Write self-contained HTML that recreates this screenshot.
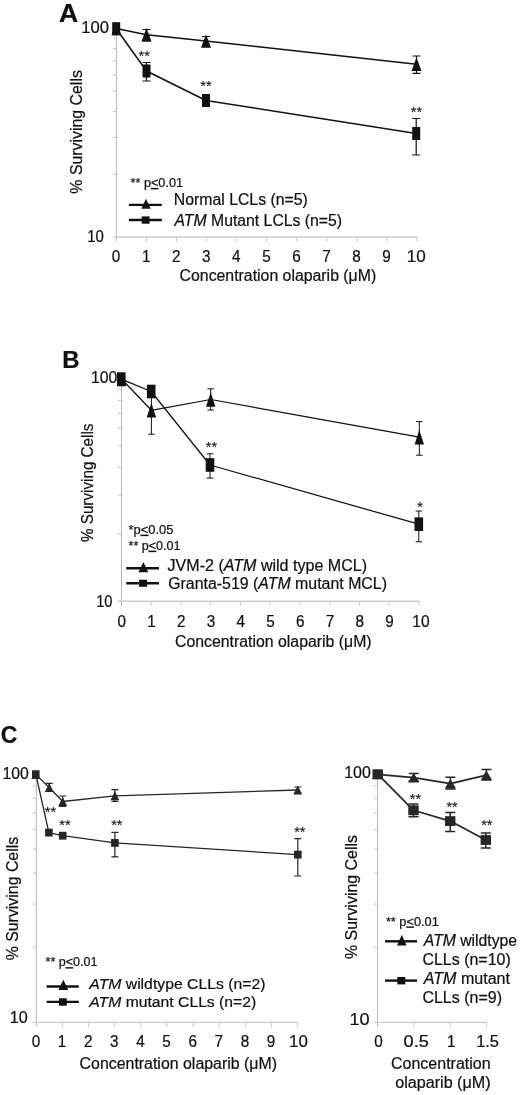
<!DOCTYPE html>
<html lang="en">
<head>
<meta charset="utf-8">
<title>Figure</title>
<style>
html,body{margin:0;padding:0;background:#fff;}
body{width:520px;height:1095px;overflow:hidden;}
svg{display:block;font-family:"Liberation Sans", Arial, Helvetica, sans-serif;}
text{stroke:#111;stroke-width:0.22px;}
</style>
</head>
<body>
<svg width="520" height="1095" viewBox="0 0 520 1095">
<rect width="520" height="1095" fill="#fff"/>
<text x="59.0" y="22.1" font-size="25" text-anchor="start" font-weight="bold" fill="#111" textLength="19.2" lengthAdjust="spacingAndGlyphs">A</text>
<path d="M116.4 27.5V241.5" stroke="#b8b8b8" stroke-width="1" fill="none"/>
<path d="M112.9 237H417.5" stroke="#cccccc" stroke-width="1.4" fill="none"/>
<path d="M112.9 174.2H116.4M112.9 137.5H116.4M112.9 111.5H116.4M112.9 91.3H116.4M112.9 74.8H116.4M112.9 60.8H116.4M112.9 48.7H116.4M112.9 38.0H116.4" stroke="#c4c4c4" stroke-width="1" fill="none"/>
<path d="M146.5 237v4.5M176.5 237v4.5M206.6 237v4.5M236.6 237v4.5M266.7 237v4.5M296.8 237v4.5M326.8 237v4.5M356.9 237v4.5M386.9 237v4.5M417.0 237v4.5" stroke="#cccccc" stroke-width="1" fill="none"/>
<text x="116.1" y="261.9" font-size="16" text-anchor="middle" font-weight="normal" fill="#111" textLength="8.5" lengthAdjust="spacingAndGlyphs">0</text>
<text x="146.2" y="261.9" font-size="16" text-anchor="middle" font-weight="normal" fill="#111" textLength="8.5" lengthAdjust="spacingAndGlyphs">1</text>
<text x="176.2" y="261.9" font-size="16" text-anchor="middle" font-weight="normal" fill="#111" textLength="8.5" lengthAdjust="spacingAndGlyphs">2</text>
<text x="206.3" y="261.9" font-size="16" text-anchor="middle" font-weight="normal" fill="#111" textLength="8.5" lengthAdjust="spacingAndGlyphs">3</text>
<text x="236.3" y="261.9" font-size="16" text-anchor="middle" font-weight="normal" fill="#111" textLength="8.5" lengthAdjust="spacingAndGlyphs">4</text>
<text x="266.4" y="261.9" font-size="16" text-anchor="middle" font-weight="normal" fill="#111" textLength="8.5" lengthAdjust="spacingAndGlyphs">5</text>
<text x="296.5" y="261.9" font-size="16" text-anchor="middle" font-weight="normal" fill="#111" textLength="8.5" lengthAdjust="spacingAndGlyphs">6</text>
<text x="326.5" y="261.9" font-size="16" text-anchor="middle" font-weight="normal" fill="#111" textLength="8.5" lengthAdjust="spacingAndGlyphs">7</text>
<text x="356.6" y="261.9" font-size="16" text-anchor="middle" font-weight="normal" fill="#111" textLength="8.5" lengthAdjust="spacingAndGlyphs">8</text>
<text x="386.6" y="261.9" font-size="16" text-anchor="middle" font-weight="normal" fill="#111" textLength="8.5" lengthAdjust="spacingAndGlyphs">9</text>
<text x="416.3" y="261.9" font-size="16" text-anchor="middle" font-weight="normal" fill="#111" textLength="19.0" lengthAdjust="spacingAndGlyphs">10</text>
<text x="81.2" y="33.3" font-size="16" text-anchor="start" font-weight="normal" fill="#111" textLength="27.8" lengthAdjust="spacingAndGlyphs">100</text>
<text x="87.2" y="242.3" font-size="16" text-anchor="start" font-weight="normal" fill="#111" textLength="16.6" lengthAdjust="spacingAndGlyphs">10</text>
<text transform="translate(81.8 131.9) rotate(-90)" font-size="16.9" text-anchor="middle" fill="#111" textLength="123.5" lengthAdjust="spacingAndGlyphs">% Surviving Cells</text>
<text x="179.6" y="281.0" font-size="16" text-anchor="start" font-weight="normal" fill="#111" textLength="196.6" lengthAdjust="spacingAndGlyphs">Concentration olaparib (μM)</text>
<path d="M116.4 28.5L146.5 34.8L206.0 41.0L416.5 64.2" stroke="#111" stroke-width="1.5" fill="none" stroke-linejoin="round"/>
<path d="M146.5 29.5V41.0M142.5 29.5h8M142.5 41.0h8" stroke="#111" stroke-width="1.2" fill="none"/>
<path d="M206.0 36.5V46.0M202.0 36.5h8M202.0 46.0h8" stroke="#111" stroke-width="1.2" fill="none"/>
<path d="M416.5 56.0V73.3M412.5 56.0h8M412.5 73.3h8" stroke="#111" stroke-width="1.2" fill="none"/>
<path d="M116.4 21.7L121.4 35.3H111.4Z" fill="#111"/>
<path d="M146.5 28.0L151.5 41.6H141.5Z" fill="#111"/>
<path d="M206.0 34.2L211.0 47.8H201.0Z" fill="#111"/>
<path d="M416.5 57.4L421.5 71.0H411.5Z" fill="#111"/>
<path d="M116.2 28.7L146.5 71.0L206.0 100.5L416.2 133.5" stroke="#111" stroke-width="1.5" fill="none" stroke-linejoin="round"/>
<path d="M146.5 62.5V81.0M142.5 62.5h8M142.5 81.0h8" stroke="#111" stroke-width="1.2" fill="none"/>
<path d="M206.0 95.0V106.0M202.0 95.0h8M202.0 106.0h8" stroke="#111" stroke-width="1.2" fill="none"/>
<path d="M416.2 118.5V155.0M412.2 118.5h8M412.2 155.0h8" stroke="#111" stroke-width="1.2" fill="none"/>
<rect x="112.2" y="22.2" width="8" height="13" fill="#111"/>
<rect x="142.5" y="64.5" width="8" height="13" fill="#111"/>
<rect x="202.0" y="94.0" width="8" height="13" fill="#111"/>
<rect x="412.2" y="127.0" width="8" height="13" fill="#111"/>
<text x="144.2" y="61.1" font-size="14.5" text-anchor="middle" fill="#111" style="stroke-width:0.1px">**</text>
<text x="206.0" y="90.8" font-size="14.5" text-anchor="middle" fill="#111" style="stroke-width:0.1px">**</text>
<text x="416.5" y="116.8" font-size="14.5" text-anchor="middle" fill="#111" style="stroke-width:0.1px">**</text>
<text x="130.5" y="187.0" font-size="12.2" text-anchor="start" font-weight="normal" fill="#111" textLength="52.6" lengthAdjust="spacingAndGlyphs">** p<tspan text-decoration="underline">&lt;</tspan>0.01</text>
<path d="M128.9 204.9H161.8" stroke="#111" stroke-width="2.4"/>
<path d="M146.0 198.7L150.7 208.8H141.3Z" fill="#111"/>
<path d="M128.9 220H161.8" stroke="#111" stroke-width="2.4"/>
<rect x="141.7" y="216.4" width="7.9" height="7.3" fill="#111"/>
<text x="173.8" y="204.7" font-size="15.6" text-anchor="start" font-weight="normal" fill="#111" textLength="134.0" lengthAdjust="spacingAndGlyphs">Normal LCLs (n=5)</text>
<text x="174.5" y="225.8" font-size="15.6" text-anchor="start" font-weight="normal" fill="#111" textLength="167.6" lengthAdjust="spacingAndGlyphs"><tspan font-style="italic">ATM</tspan> Mutant LCLs (n=5)</text>
<text x="62.3" y="368.0" font-size="24" text-anchor="start" font-weight="bold" fill="#111">B</text>
<path d="M121.5 377.8V605.8" stroke="#b8b8b8" stroke-width="1" fill="none"/>
<path d="M118.0 601.3H419.5" stroke="#cccccc" stroke-width="1.4" fill="none"/>
<path d="M118.0 534.3H121.5M118.0 495.1H121.5M118.0 467.3H121.5M118.0 445.8H121.5M118.0 428.2H121.5M118.0 413.3H121.5M118.0 400.4H121.5M118.0 389.0H121.5" stroke="#c4c4c4" stroke-width="1" fill="none"/>
<path d="M151.2 601.3v4.5M181.0 601.3v4.5M210.8 601.3v4.5M240.5 601.3v4.5M270.2 601.3v4.5M300.0 601.3v4.5M329.8 601.3v4.5M359.5 601.3v4.5M389.2 601.3v4.5M419.0 601.3v4.5" stroke="#cccccc" stroke-width="1" fill="none"/>
<text x="121.7" y="627.4" font-size="16" text-anchor="middle" font-weight="normal" fill="#111" textLength="8.5" lengthAdjust="spacingAndGlyphs">0</text>
<text x="151.4" y="627.4" font-size="16" text-anchor="middle" font-weight="normal" fill="#111" textLength="8.5" lengthAdjust="spacingAndGlyphs">1</text>
<text x="181.2" y="627.4" font-size="16" text-anchor="middle" font-weight="normal" fill="#111" textLength="8.5" lengthAdjust="spacingAndGlyphs">2</text>
<text x="210.9" y="627.4" font-size="16" text-anchor="middle" font-weight="normal" fill="#111" textLength="8.5" lengthAdjust="spacingAndGlyphs">3</text>
<text x="240.7" y="627.4" font-size="16" text-anchor="middle" font-weight="normal" fill="#111" textLength="8.5" lengthAdjust="spacingAndGlyphs">4</text>
<text x="270.4" y="627.4" font-size="16" text-anchor="middle" font-weight="normal" fill="#111" textLength="8.5" lengthAdjust="spacingAndGlyphs">5</text>
<text x="300.2" y="627.4" font-size="16" text-anchor="middle" font-weight="normal" fill="#111" textLength="8.5" lengthAdjust="spacingAndGlyphs">6</text>
<text x="329.9" y="627.4" font-size="16" text-anchor="middle" font-weight="normal" fill="#111" textLength="8.5" lengthAdjust="spacingAndGlyphs">7</text>
<text x="359.7" y="627.4" font-size="16" text-anchor="middle" font-weight="normal" fill="#111" textLength="8.5" lengthAdjust="spacingAndGlyphs">8</text>
<text x="389.4" y="627.4" font-size="16" text-anchor="middle" font-weight="normal" fill="#111" textLength="8.5" lengthAdjust="spacingAndGlyphs">9</text>
<text x="420.9" y="627.4" font-size="16" text-anchor="middle" font-weight="normal" fill="#111" textLength="17.3" lengthAdjust="spacingAndGlyphs">10</text>
<text x="91.0" y="383.2" font-size="16" text-anchor="start" font-weight="normal" fill="#111" textLength="26.3" lengthAdjust="spacingAndGlyphs">100</text>
<text x="96.2" y="606.8" font-size="16" text-anchor="start" font-weight="normal" fill="#111" textLength="16.3" lengthAdjust="spacingAndGlyphs">10</text>
<text transform="translate(93.4 482.8) rotate(-90)" font-size="17.2" text-anchor="middle" fill="#111" textLength="118.5" lengthAdjust="spacingAndGlyphs">% Surviving Cells</text>
<text x="175.0" y="647.0" font-size="16" text-anchor="start" font-weight="normal" fill="#111" textLength="196.6" lengthAdjust="spacingAndGlyphs">Concentration olaparib (μM)</text>
<path d="M121.5 379.0L151.4 410.3L210.7 399.5L419.3 437.2" stroke="#111" stroke-width="1.25" fill="none" stroke-linejoin="round"/>
<path d="M151.4 394.0V434.2M148.2 394.0h6.5M148.2 434.2h6.5" stroke="#111" stroke-width="1.0" fill="none"/>
<path d="M210.7 388.8V410.0M207.4 388.8h6.5M207.4 410.0h6.5" stroke="#111" stroke-width="1.0" fill="none"/>
<path d="M419.3 421.6V455.2M416.1 421.6h6.5M416.1 455.2h6.5" stroke="#111" stroke-width="1.0" fill="none"/>
<path d="M121.5 371.7L126.2 386.3H116.8Z" fill="#111"/>
<path d="M151.4 403.0L156.1 417.6H146.7Z" fill="#111"/>
<path d="M210.7 392.2L215.4 406.8H206.0Z" fill="#111"/>
<path d="M419.3 429.9L424.0 444.5H414.6Z" fill="#111"/>
<path d="M121.3 379.1L151.2 391.5L210.0 465.0L418.8 524.2" stroke="#111" stroke-width="1.25" fill="none" stroke-linejoin="round"/>
<path d="M210.0 453.8V478.1M206.8 453.8h6.5M206.8 478.1h6.5" stroke="#111" stroke-width="1.0" fill="none"/>
<path d="M418.8 511.0V541.8M415.6 511.0h6.5M415.6 541.8h6.5" stroke="#111" stroke-width="1.0" fill="none"/>
<rect x="117.0" y="372.3" width="8.6" height="13.6" fill="#111"/>
<rect x="146.9" y="384.7" width="8.6" height="13.6" fill="#111"/>
<rect x="205.7" y="458.2" width="8.6" height="13.6" fill="#111"/>
<rect x="414.5" y="517.4" width="8.6" height="13.6" fill="#111"/>
<text x="211.5" y="451.9" font-size="14.5" text-anchor="middle" fill="#111" style="stroke-width:0.1px">**</text>
<text x="420.1" y="511.6" font-size="14.5" text-anchor="middle" fill="#111" style="stroke-width:0.1px">*</text>
<text x="128.5" y="533.8" font-size="12.2" text-anchor="start" font-weight="normal" fill="#111" textLength="45.0" lengthAdjust="spacingAndGlyphs">*p<tspan text-decoration="underline">&lt;</tspan>0.05</text>
<text x="128.5" y="549.8" font-size="12.2" text-anchor="start" font-weight="normal" fill="#111" textLength="52.1" lengthAdjust="spacingAndGlyphs">** p<tspan text-decoration="underline">&lt;</tspan>0.01</text>
<path d="M126.3 568.3H159" stroke="#111" stroke-width="2.4"/>
<path d="M143.4 561.9L148.3 572.2H138.5Z" fill="#111"/>
<path d="M126.3 583.2H159" stroke="#111" stroke-width="2.4"/>
<rect x="139" y="579.7" width="8.1" height="7.1" fill="#111"/>
<text x="167.6" y="571.3" font-size="16" text-anchor="start" font-weight="normal" fill="#111" textLength="199.4" lengthAdjust="spacingAndGlyphs">JVM-2 (<tspan font-style="italic">ATM</tspan> wild type MCL)</text>
<text x="168.2" y="589.1" font-size="16" text-anchor="start" font-weight="normal" fill="#111" textLength="218.8" lengthAdjust="spacingAndGlyphs">Granta-519 (<tspan font-style="italic">ATM</tspan> mutant MCL)</text>
<text x="0.8" y="743.2" font-size="23" text-anchor="start" font-weight="bold" fill="#111">C</text>
<path d="M36.3 773.4V1026.9" stroke="#b8b8b8" stroke-width="1" fill="none"/>
<path d="M32.8 1022.4H298.1" stroke="#cccccc" stroke-width="1.4" fill="none"/>
<path d="M32.8 947.7H36.3M32.8 904.1H36.3M32.8 873.1H36.3M32.8 849.1H36.3M32.8 829.4H36.3M32.8 812.8H36.3M32.8 798.4H36.3M32.8 785.7H36.3" stroke="#c4c4c4" stroke-width="1" fill="none"/>
<path d="M62.4 1022.4v5M88.6 1022.4v5M114.7 1022.4v5M140.8 1022.4v5M166.9 1022.4v5M193.1 1022.4v5M219.2 1022.4v5M245.3 1022.4v5M271.5 1022.4v5M297.6 1022.4v5" stroke="#cccccc" stroke-width="1" fill="none"/>
<text x="35.9" y="1046.6" font-size="16" text-anchor="middle" font-weight="normal" fill="#111" textLength="8.5" lengthAdjust="spacingAndGlyphs">0</text>
<text x="62.0" y="1046.6" font-size="16" text-anchor="middle" font-weight="normal" fill="#111" textLength="8.5" lengthAdjust="spacingAndGlyphs">1</text>
<text x="88.2" y="1046.6" font-size="16" text-anchor="middle" font-weight="normal" fill="#111" textLength="8.5" lengthAdjust="spacingAndGlyphs">2</text>
<text x="114.3" y="1046.6" font-size="16" text-anchor="middle" font-weight="normal" fill="#111" textLength="8.5" lengthAdjust="spacingAndGlyphs">3</text>
<text x="140.4" y="1046.6" font-size="16" text-anchor="middle" font-weight="normal" fill="#111" textLength="8.5" lengthAdjust="spacingAndGlyphs">4</text>
<text x="166.5" y="1046.6" font-size="16" text-anchor="middle" font-weight="normal" fill="#111" textLength="8.5" lengthAdjust="spacingAndGlyphs">5</text>
<text x="192.7" y="1046.6" font-size="16" text-anchor="middle" font-weight="normal" fill="#111" textLength="8.5" lengthAdjust="spacingAndGlyphs">6</text>
<text x="218.8" y="1046.6" font-size="16" text-anchor="middle" font-weight="normal" fill="#111" textLength="8.5" lengthAdjust="spacingAndGlyphs">7</text>
<text x="244.9" y="1046.6" font-size="16" text-anchor="middle" font-weight="normal" fill="#111" textLength="8.5" lengthAdjust="spacingAndGlyphs">8</text>
<text x="271.1" y="1046.6" font-size="16" text-anchor="middle" font-weight="normal" fill="#111" textLength="8.5" lengthAdjust="spacingAndGlyphs">9</text>
<text x="298.4" y="1046.6" font-size="16" text-anchor="middle" font-weight="normal" fill="#111" textLength="18.8" lengthAdjust="spacingAndGlyphs">10</text>
<text x="2.4" y="778.8" font-size="16" text-anchor="start" font-weight="normal" fill="#111" textLength="26.4" lengthAdjust="spacingAndGlyphs">100</text>
<text x="9.8" y="1023.2" font-size="16" text-anchor="start" font-weight="normal" fill="#111" textLength="18.0" lengthAdjust="spacingAndGlyphs">10</text>
<text transform="translate(18.4 898.6) rotate(-90)" font-size="16.9" text-anchor="middle" fill="#111" textLength="123.5" lengthAdjust="spacingAndGlyphs">% Surviving Cells</text>
<text x="79.6" y="1068.6" font-size="16" text-anchor="start" font-weight="normal" fill="#111" textLength="197.4" lengthAdjust="spacingAndGlyphs">Concentration olaparib (μM)</text>
<path d="M35.8 774.4L49.2 787.5L62.7 801.5L114.9 795.8L297.8 790.0" stroke="#262626" stroke-width="1.3" fill="none" stroke-linejoin="round"/>
<path d="M49.2 783.3V791.0M45.7 783.3h7M45.7 791.0h7" stroke="#262626" stroke-width="1.2" fill="none"/>
<path d="M62.7 796.0V806.5M59.2 796.0h7M59.2 806.5h7" stroke="#262626" stroke-width="1.2" fill="none"/>
<path d="M114.9 789.6V801.3M111.4 789.6h7M111.4 801.3h7" stroke="#262626" stroke-width="1.2" fill="none"/>
<path d="M297.8 787.0V793.0M294.3 787.0h7M294.3 793.0h7" stroke="#262626" stroke-width="1.2" fill="none"/>
<path d="M35.8 769.9L40.2 778.9H31.4Z" fill="#262626"/>
<path d="M49.2 783.0L53.6 792.0H44.8Z" fill="#262626"/>
<path d="M62.7 797.0L67.1 806.0H58.3Z" fill="#262626"/>
<path d="M114.9 791.3L119.3 800.3H110.5Z" fill="#262626"/>
<path d="M297.8 785.5L302.2 794.5H293.4Z" fill="#262626"/>
<path d="M35.8 774.2L48.9 832.6L62.7 835.7L114.9 842.9L297.8 854.6" stroke="#262626" stroke-width="1.3" fill="none" stroke-linejoin="round"/>
<path d="M114.9 832.4V856.9M111.4 832.4h7M111.4 856.9h7" stroke="#262626" stroke-width="1.2" fill="none"/>
<path d="M297.8 838.7V876.0M294.3 838.7h7M294.3 876.0h7" stroke="#262626" stroke-width="1.2" fill="none"/>
<rect x="32.0" y="770.3" width="7.6" height="7.8" fill="#262626"/>
<rect x="45.1" y="828.7" width="7.6" height="7.8" fill="#262626"/>
<rect x="58.9" y="831.8" width="7.6" height="7.8" fill="#262626"/>
<rect x="111.1" y="839.0" width="7.6" height="7.8" fill="#262626"/>
<rect x="294.0" y="850.7" width="7.6" height="7.8" fill="#262626"/>
<text x="50.4" y="816.5" font-size="14.5" text-anchor="middle" fill="#111" style="stroke-width:0.1px">**</text>
<text x="64.9" y="829.8" font-size="14.5" text-anchor="middle" fill="#111" style="stroke-width:0.1px">**</text>
<text x="116.8" y="829.8" font-size="14.5" text-anchor="middle" fill="#111" style="stroke-width:0.1px">**</text>
<text x="299.8" y="836.6" font-size="14.5" text-anchor="middle" fill="#111" style="stroke-width:0.1px">**</text>
<text x="45.5" y="966.2" font-size="12.2" text-anchor="start" font-weight="normal" fill="#111" textLength="52.0" lengthAdjust="spacingAndGlyphs">** p<tspan text-decoration="underline">&lt;</tspan>0.01</text>
<path d="M46.6 986.5H78.8" stroke="#111" stroke-width="2.4"/>
<path d="M63.3 979.8L68.3 990H58.4Z" fill="#111"/>
<path d="M46.6 1001.9H78.8" stroke="#111" stroke-width="2.4"/>
<rect x="59" y="998.3" width="7.8" height="7.4" fill="#111"/>
<text x="89.3" y="989.0" font-size="15.5" text-anchor="start" font-weight="normal" fill="#111" textLength="176.1" lengthAdjust="spacingAndGlyphs"><tspan font-style="italic">ATM</tspan> wildtype CLLs (n=2)</text>
<text x="89.3" y="1007.0" font-size="15.5" text-anchor="start" font-weight="normal" fill="#111" textLength="166.9" lengthAdjust="spacingAndGlyphs"><tspan font-style="italic">ATM</tspan> mutant CLLs (n=2)</text>
<path d="M377.6 773.4V1026.9" stroke="#b8b8b8" stroke-width="1" fill="none"/>
<path d="M374.1 1022.4H487.1" stroke="#cccccc" stroke-width="1.4" fill="none"/>
<path d="M374.1 947.7H377.6M374.1 904.1H377.6M374.1 873.1H377.6M374.1 849.1H377.6M374.1 829.4H377.6M374.1 812.8H377.6M374.1 798.4H377.6M374.1 785.7H377.6" stroke="#c4c4c4" stroke-width="1" fill="none"/>
<path d="M413.9 1022.4v5M450.3 1022.4v5M486.6 1022.4v5" stroke="#cccccc" stroke-width="1" fill="none"/>
<text x="378.6" y="1046.6" font-size="16" text-anchor="middle" font-weight="normal" fill="#111" textLength="8.5" lengthAdjust="spacingAndGlyphs">0</text>
<text x="416.2" y="1046.6" font-size="16" text-anchor="middle" font-weight="normal" fill="#111" textLength="25.2" lengthAdjust="spacingAndGlyphs">0.5</text>
<text x="451.3" y="1046.6" font-size="16" text-anchor="middle" font-weight="normal" fill="#111" textLength="8.5" lengthAdjust="spacingAndGlyphs">1</text>
<text x="487.6" y="1046.6" font-size="16" text-anchor="middle" font-weight="normal" fill="#111" textLength="22.8" lengthAdjust="spacingAndGlyphs">1.5</text>
<text x="344.2" y="777.8" font-size="16" text-anchor="start" font-weight="normal" fill="#111" textLength="26.6" lengthAdjust="spacingAndGlyphs">100</text>
<text x="349.4" y="1025.3" font-size="16" text-anchor="start" font-weight="normal" fill="#111" textLength="20.2" lengthAdjust="spacingAndGlyphs">10</text>
<text transform="translate(357.3 897) rotate(-90)" font-size="16.9" text-anchor="middle" fill="#111" textLength="124" lengthAdjust="spacingAndGlyphs">% Surviving Cells</text>
<text x="391.0" y="1069.4" font-size="16" text-anchor="start" font-weight="normal" fill="#111" textLength="99.6" lengthAdjust="spacingAndGlyphs">Concentration</text>
<text x="395.2" y="1088.3" font-size="16" text-anchor="start" font-weight="normal" fill="#111" textLength="95.4" lengthAdjust="spacingAndGlyphs">olaparib (μM)</text>
<path d="M377.6 774.4L413.7 777.6L450.4 783.7L486.4 775.2" stroke="#262626" stroke-width="1.7" fill="none" stroke-linejoin="round"/>
<path d="M413.7 773.6V781.0M408.7 773.6h10M408.7 781.0h10" stroke="#262626" stroke-width="1.5" fill="none"/>
<path d="M450.4 777.2V789.0M445.4 777.2h10M445.4 789.0h10" stroke="#262626" stroke-width="1.5" fill="none"/>
<path d="M486.4 769.4V780.0M481.4 769.4h10M481.4 780.0h10" stroke="#262626" stroke-width="1.5" fill="none"/>
<path d="M377.6 769.6L383.2 779.2H372.0Z" fill="#262626"/>
<path d="M413.7 772.8L419.3 782.4H408.1Z" fill="#262626"/>
<path d="M450.4 778.9L456.0 788.5H444.8Z" fill="#262626"/>
<path d="M486.4 770.4L492.0 780.0H480.8Z" fill="#262626"/>
<path d="M377.7 774.2L413.5 810.3L450.2 821.1L485.8 840.0" stroke="#262626" stroke-width="1.7" fill="none" stroke-linejoin="round"/>
<path d="M413.5 804.0V816.8M408.5 804.0h10M408.5 816.8h10" stroke="#262626" stroke-width="1.5" fill="none"/>
<path d="M450.2 812.5V831.6M445.2 812.5h10M445.2 831.6h10" stroke="#262626" stroke-width="1.5" fill="none"/>
<path d="M485.8 832.9V848.1M480.8 832.9h10M480.8 848.1h10" stroke="#262626" stroke-width="1.5" fill="none"/>
<rect x="372.5" y="769.3" width="10.4" height="9.8" fill="#262626"/>
<rect x="408.3" y="805.4" width="10.4" height="9.8" fill="#262626"/>
<rect x="445.0" y="816.2" width="10.4" height="9.8" fill="#262626"/>
<rect x="480.6" y="835.1" width="10.4" height="9.8" fill="#262626"/>
<text x="415.4" y="803.7" font-size="14.5" text-anchor="middle" fill="#111" style="stroke-width:0.1px">**</text>
<text x="452.1" y="811.9" font-size="14.5" text-anchor="middle" fill="#111" style="stroke-width:0.1px">**</text>
<text x="486.8" y="829.9" font-size="14.5" text-anchor="middle" fill="#111" style="stroke-width:0.1px">**</text>
<text x="385.9" y="925.6" font-size="12.2" text-anchor="start" font-weight="normal" fill="#111" textLength="52.9" lengthAdjust="spacingAndGlyphs">** p<tspan text-decoration="underline">&lt;</tspan>0.01</text>
<path d="M385 941.3H417" stroke="#111" stroke-width="2.4"/>
<path d="M401.8 934.7L406.5 945.5H397Z" fill="#111"/>
<path d="M385 980.6H417" stroke="#111" stroke-width="2.4"/>
<rect x="397.3" y="977" width="8.0" height="7.4" fill="#111"/>
<text x="423.8" y="945.5" font-size="15.8" text-anchor="start" font-weight="normal" fill="#111" textLength="93.3" lengthAdjust="spacingAndGlyphs"><tspan font-style="italic">ATM</tspan> wildtype</text>
<text x="422.4" y="965.0" font-size="15.8" text-anchor="start" font-weight="normal" fill="#111" textLength="88.4" lengthAdjust="spacingAndGlyphs">CLLs (n=10)</text>
<text x="423.8" y="984.2" font-size="15.8" text-anchor="start" font-weight="normal" fill="#111" textLength="86.2" lengthAdjust="spacingAndGlyphs"><tspan font-style="italic">ATM</tspan> mutant</text>
<text x="422.4" y="1003.3" font-size="15.8" text-anchor="start" font-weight="normal" fill="#111" textLength="79.6" lengthAdjust="spacingAndGlyphs">CLLs (n=9)</text>
</svg>
</body>
</html>
